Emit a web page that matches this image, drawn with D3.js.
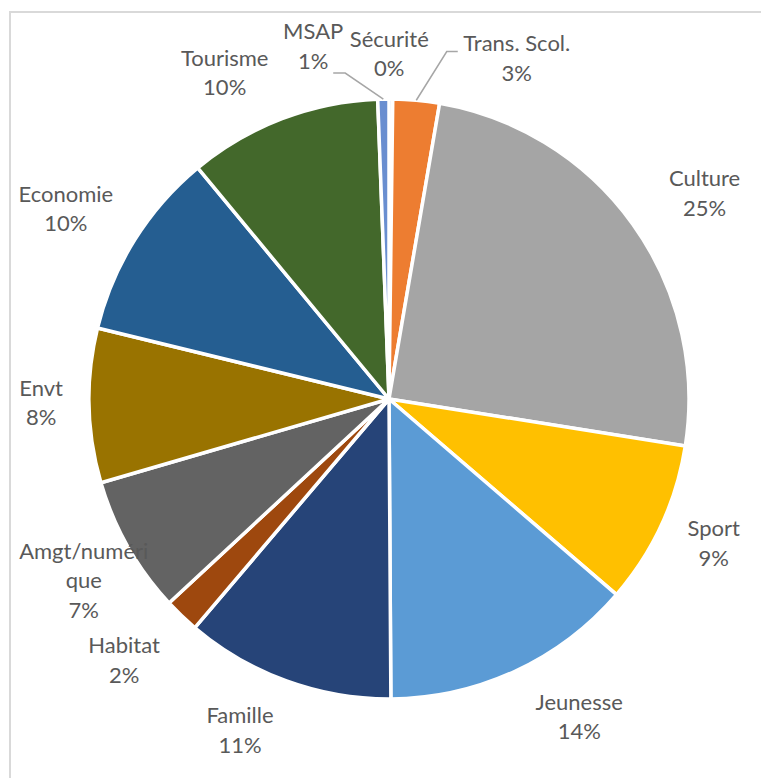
<!DOCTYPE html>
<html>
<head>
<meta charset="utf-8">
<script src="https://cdn.jsdelivr.net/npm/d3@7"></script>
<style>
    html, body { margin: 0; padding: 0; background: #fff; }
    svg text { font-family: Lato, "Open Sans", sans-serif; fill: #595959; }
</style>
</head>
<body>
<svg id="chart" width="761" height="778"></svg>
<script>
// categories in drawing order, clockwise from 12 o'clock
const categories = ['Sécurité', 'Trans. Scol.', 'Culture', 'Sport', 'Jeunesse', 'Famille',
    'Habitat', 'Amgt/numérique', 'Envt', 'Economie', 'Tourisme', 'MSAP']
const shares = [0.2, 2.5, 24.8, 8.8, 13.6, 11.3, 1.9, 7.4, 8.3, 10.2, 10.4, 0.6]
const sliceColors = ['#4472C4', '#ED7D31', '#A5A5A5', '#FFC000', '#5B9BD5', '#264478',
    '#9E480E', '#636363', '#997300', '#255E91', '#43682B', '#698ED0']

// label layout tweaks (Excel "best fit" does not sit on one radius)
const labelNudge = {
    'Sécurité': [-2, 15],
    'Trans. Scol.': [95, 18],
    'Culture': [23, 4],
    'Sport': [-2, -7],
    'Jeunesse': [39, -9],
    'Famille': [-26, -7],
    'Habitat': [-16, 1],
    'Amgt/numérique': [8, 4],
    'Envt': [12, -4],
    'Economie': [-18, 1],
    'Tourisme': [-36, 10],
    'MSAP': [-69, 7]
}
// leader lines: end point relative to label centre, then short horizontal elbow
const leaders = {
    'MSAP': { end: [20, 27], elbow: 12 },
    'Trans. Scol.': { end: [-59, -7], elbow: -11 }
}

const cx = 389, cy = 399, radius = 300
const labelRadius = 360
const lineHeight = 29.5
const fontSize = 22
const wrapWidth = 134

var svg = d3.select('#chart')

// chart area frame (right/bottom edges fall outside the picture)
svg.append('rect')
    .attr('x', 10).attr('y', 12)
    .attr('width', 800).attr('height', 800)
    .style('fill', 'none')
    .style('stroke', '#d9d9d9')
    .style('stroke-width', 2)

var data = categories.map((c, i) => ({ name: c, value: shares[i], color: sliceColors[i] }))
var total = d3.sum(shares)

var pie = d3.pie().sort(null).value(d => d.value)
var arcs = pie(data)
var arc = d3.arc().innerRadius(0).outerRadius(radius)
var labelArc = d3.arc().innerRadius(labelRadius).outerRadius(labelRadius)

var g = svg.append('g').attr('transform', `translate(${cx},${cy})`)

g.selectAll('path.slice')
    .data(arcs)
    .enter().append('path')
    .attr('class', 'slice')
    .attr('d', arc)
    .style('fill', d => d.data.color)
    .style('stroke', '#fff')
    .style('stroke-width', 3.5)
    .style('stroke-linejoin', 'round')

function wrapName(name) {
    // break long words by character, like Excel does in a narrow label box
    var probe = g.append('text').style('font-size', fontSize + 'px')
    var lines = []
    var cur = ''
    for (const ch of name) {
        probe.text(cur + ch)
        if (probe.node().getComputedTextLength() > wrapWidth && cur.length) {
            lines.push(cur)
            cur = ch
        } else {
            cur += ch
        }
    }
    lines.push(cur)
    probe.remove()
    return lines
}

var labels = g.selectAll('g.label')
    .data(arcs)
    .enter().append('g')
    .attr('class', 'label')
    .attr('transform', d => {
        var [x, y] = labelArc.centroid(d)
        var [nx, ny] = labelNudge[d.data.name] || [0, 0]
        d.lx = x + nx
        d.ly = y + ny
        return `translate(${d.lx},${d.ly})`
    })

labels.each(function (d) {
    var lines = wrapName(d.data.name)
    lines.push(Math.round(d.data.value / total * 100) + '%')
    var top = -(lines.length - 1) * lineHeight / 2
    var t = d3.select(this).append('text')
        .attr('text-anchor', 'middle')
        .style('font-size', fontSize + 'px')
    lines.forEach((ln, i) => {
        t.append('tspan')
            .attr('x', 0)
            .attr('y', top + i * lineHeight)
            .attr('dy', '0.35em')
            .text(ln)
    })
})

// leader lines for the thin slices at the top
arcs.filter(d => leaders[d.data.name]).forEach(d => {
    var spec = leaders[d.data.name]
    var mid = (d.startAngle + d.endAngle) / 2
    var sx = radius * Math.sin(mid), sy = -radius * Math.cos(mid)
    var ex = d.lx + spec.end[0], ey = d.ly + spec.end[1]
    g.append('path')
        .attr('d', `M ${sx} ${sy} L ${ex + spec.elbow} ${ey} L ${ex} ${ey}`)
        .style('fill', 'none')
        .style('stroke', '#a6a6a6')
        .style('stroke-width', 1.5)
})
</script>
</body>
</html>
